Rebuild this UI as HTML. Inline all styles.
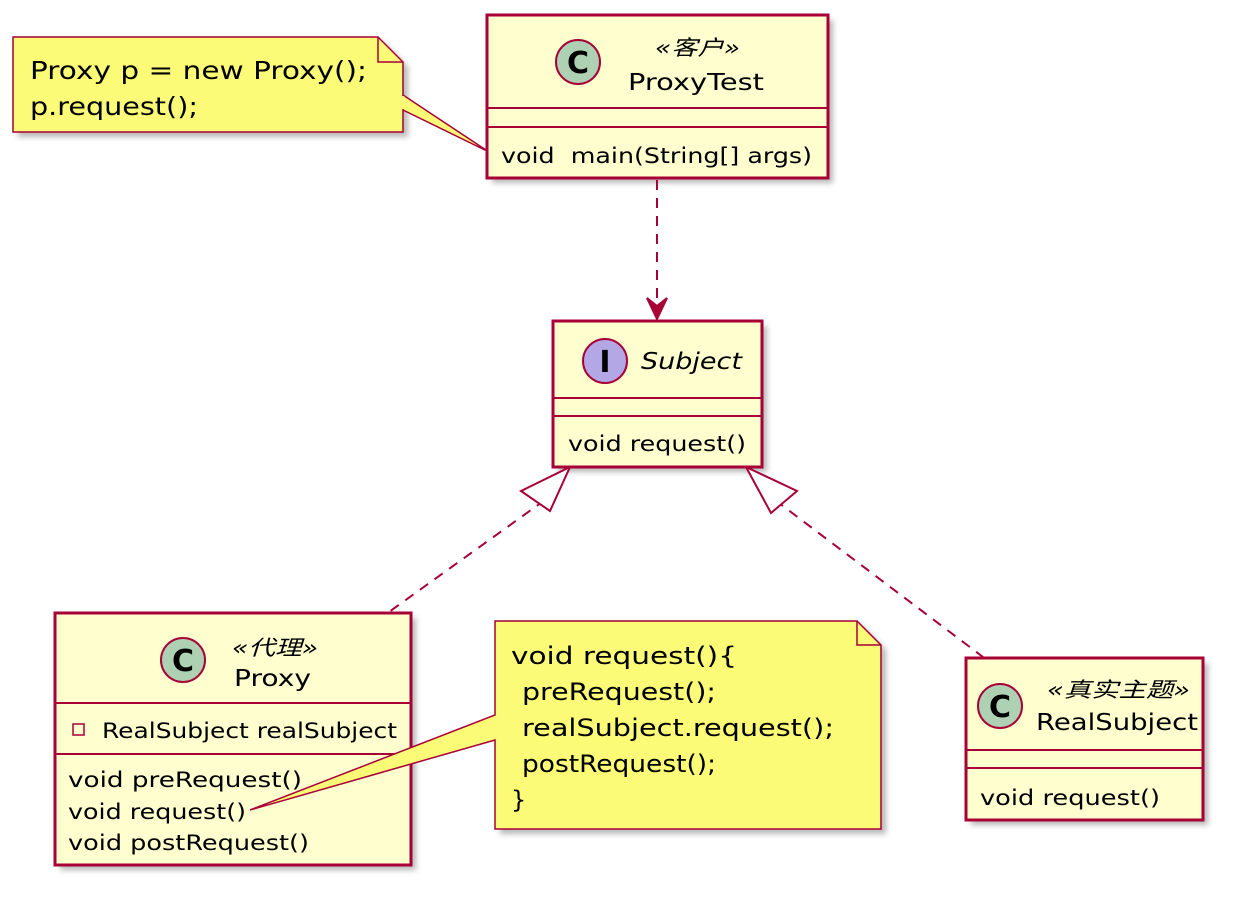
<!DOCTYPE html>
<html><head><meta charset="utf-8"><style>
body{margin:0;background:#fff}
svg text{font-family:"DejaVu Sans","Liberation Sans","Noto Sans CJK SC",sans-serif;fill:#000;white-space:pre}
</style></head><body>
<svg width="1234" height="897" viewBox="0 0 1234 897" xmlns="http://www.w3.org/2000/svg">
<defs><filter id="sh" x="-10%" y="-10%" width="130%" height="130%"><feGaussianBlur stdDeviation="3"/></filter></defs>
<g fill="#888" opacity="0.6" filter="url(#sh)">
<rect x="492" y="20" width="341" height="163"/>
<rect x="558" y="326" width="209" height="146"/>
<rect x="60" y="618" width="356" height="252"/>
<rect x="971" y="663" width="237" height="162"/>
<path d="M18 42 H383 L408 67 V137 H18Z"/>
<path d="M500 626 H862 L886 650 V834 H500Z"/>
</g>
<g stroke="#A80036" stroke-width="2" fill="none">
<line x1="657" y1="180" x2="657" y2="310" stroke-dasharray="10,8"/>
<path d="M647 298 L657 319 L667 298 L657 306 Z" fill="#A80036"/>
<line x1="545" y1="500" x2="389" y2="612" stroke-dasharray="10,8"/>
<path d="M570 467 L550 511 L521 491 Z" fill="#fff"/>
<line x1="775" y1="500" x2="983" y2="657" stroke-dasharray="10,8"/>
<path d="M746 467 L797 491 L771 513 Z" fill="#fff"/>
</g>
<path d="M13 37 H378 L403 62 V132 H13 Z M403 95 L489 152 L403 110" fill="#FBFB77" stroke="#A80036" stroke-width="1.5"/>
<path d="M378 37 V62 H403" fill="none" stroke="#A80036" stroke-width="1.5"/>
<line x1="403" y1="96" x2="403" y2="109" stroke="#FBFB77" stroke-width="3"/>
<text x="30" y="79" font-size="25" textLength="337" lengthAdjust="spacingAndGlyphs">Proxy p = new Proxy();</text>
<text x="30" y="115" font-size="25" textLength="168" lengthAdjust="spacingAndGlyphs">p.request();</text>
<rect x="487" y="15" width="341" height="163" fill="#FEFECE" stroke="#A80036" stroke-width="3"/>
<line x1="487" y1="108" x2="828" y2="108" stroke="#A80036" stroke-width="2"/>
<line x1="487" y1="127" x2="828" y2="127" stroke="#A80036" stroke-width="2"/>
<circle cx="578" cy="62" r="22" fill="#ADD1B2" stroke="#A80036" stroke-width="2"/>
<text x="578" y="73" font-size="30" font-weight="bold" text-anchor="middle" font-family="Liberation Sans">C</text>
<text x="655" y="55" font-size="21" font-style="italic" textLength="85" lengthAdjust="spacingAndGlyphs">«客户»</text>
<text x="628" y="90" font-size="23" textLength="136" lengthAdjust="spacingAndGlyphs">ProxyTest</text>
<text x="501" y="163" font-size="21" textLength="311" lengthAdjust="spacingAndGlyphs">void  main(String[] args)</text>
<rect x="553" y="321" width="209" height="146" fill="#FEFECE" stroke="#A80036" stroke-width="3"/>
<line x1="553" y1="398" x2="762" y2="398" stroke="#A80036" stroke-width="2"/>
<line x1="553" y1="416" x2="762" y2="416" stroke="#A80036" stroke-width="2"/>
<circle cx="605" cy="361" r="22" fill="#B4A7E5" stroke="#A80036" stroke-width="2"/>
<text x="605" y="372" font-size="30" font-weight="bold" text-anchor="middle" font-family="Liberation Serif">I</text>
<text x="641" y="369" font-size="23" font-style="italic" textLength="101" lengthAdjust="spacingAndGlyphs">Subject</text>
<text x="568" y="451" font-size="21" textLength="178" lengthAdjust="spacingAndGlyphs">void request()</text>
<rect x="55" y="613" width="356" height="252" fill="#FEFECE" stroke="#A80036" stroke-width="3"/>
<line x1="55" y1="703" x2="411" y2="703" stroke="#A80036" stroke-width="2"/>
<line x1="55" y1="754" x2="411" y2="754" stroke="#A80036" stroke-width="2"/>
<circle cx="183" cy="660" r="22" fill="#ADD1B2" stroke="#A80036" stroke-width="2"/>
<text x="183" y="671" font-size="30" font-weight="bold" text-anchor="middle" font-family="Liberation Sans">C</text>
<text x="232" y="655" font-size="21" font-style="italic" textLength="86" lengthAdjust="spacingAndGlyphs">«代理»</text>
<text x="234" y="686" font-size="23" textLength="77" lengthAdjust="spacingAndGlyphs">Proxy</text>
<rect x="73" y="724" width="11" height="11" fill="none" stroke="#A80036" stroke-width="1.5"/>
<text x="102" y="738" font-size="21" textLength="295" lengthAdjust="spacingAndGlyphs">RealSubject realSubject</text>
<text x="68" y="787" font-size="21" textLength="234" lengthAdjust="spacingAndGlyphs">void preRequest()</text>
<text x="68" y="819" font-size="21" textLength="178" lengthAdjust="spacingAndGlyphs">void request()</text>
<text x="68" y="850" font-size="21" textLength="241" lengthAdjust="spacingAndGlyphs">void postRequest()</text>
<path d="M495 621 H857 L881 645 V829 H495 V740 L250 810 L495 715 Z" fill="#FBFB77" stroke="#A80036" stroke-width="1.5"/>
<path d="M857 621 V645 H881" fill="none" stroke="#A80036" stroke-width="1.5"/>
<text x="511" y="664" font-size="24" textLength="226" lengthAdjust="spacingAndGlyphs">void request(){</text>
<text x="522" y="700" font-size="24" textLength="194" lengthAdjust="spacingAndGlyphs">preRequest();</text>
<text x="522" y="736" font-size="24" textLength="312" lengthAdjust="spacingAndGlyphs">realSubject.request();</text>
<text x="522" y="772" font-size="24" textLength="194" lengthAdjust="spacingAndGlyphs">postRequest();</text>
<text x="511" y="808" font-size="24">}</text>
<rect x="966" y="658" width="237" height="162" fill="#FEFECE" stroke="#A80036" stroke-width="3"/>
<line x1="966" y1="750" x2="1203" y2="750" stroke="#A80036" stroke-width="2"/>
<line x1="966" y1="768" x2="1203" y2="768" stroke="#A80036" stroke-width="2"/>
<circle cx="1000" cy="706" r="22" fill="#ADD1B2" stroke="#A80036" stroke-width="2"/>
<text x="1000" y="717" font-size="30" font-weight="bold" text-anchor="middle" font-family="Liberation Sans">C</text>
<text x="1047" y="697" font-size="21" font-style="italic" textLength="143" lengthAdjust="spacingAndGlyphs">«真实主题»</text>
<text x="1036" y="730" font-size="23" textLength="162" lengthAdjust="spacingAndGlyphs">RealSubject</text>
<text x="980" y="805" font-size="21" textLength="180" lengthAdjust="spacingAndGlyphs">void request()</text>
</svg>
</body></html>
